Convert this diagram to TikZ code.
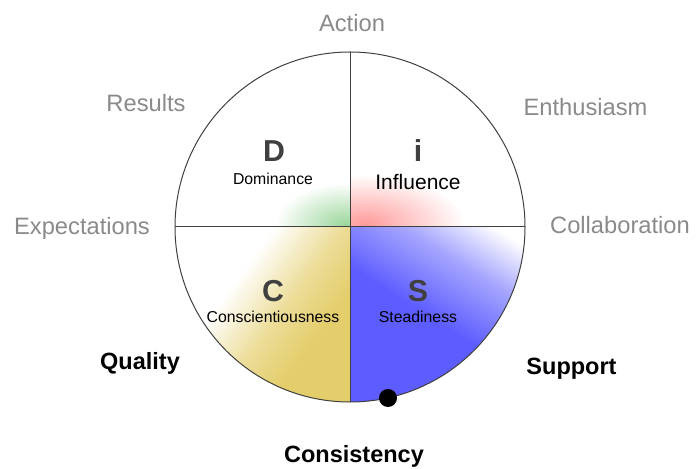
\documentclass[tikz,border=0pt]{standalone}
\usepackage{fontspec}
\setmainfont{Liberation Sans}
\usetikzlibrary{calc}
\definecolor{cyellow}{RGB}{228,206,108}
\definecolor{sblue}{RGB}{92,92,255}
\definecolor{dgreen}{RGB}{155,214,155}
\definecolor{ired}{RGB}{255,155,155}
\definecolor{lblgray}{RGB}{138,138,138}
\definecolor{ltrgray}{RGB}{64,64,64}
\pgfdeclarehorizontalshading{c_fade}{100bp}{color(0bp)=(cyellow); color(34bp)=(cyellow); color(46bp)=(cyellow!70!white); color(62bp)=(white); color(100bp)=(white)}
\pgfdeclarehorizontalshading{s_fade}{100bp}{color(0bp)=(sblue); color(48bp)=(sblue); color(66bp)=(sblue!55!white); color(80bp)=(white); color(100bp)=(white)}
\tikzset{
  lbl_g/.style = {font=\fontsize{23.7}{28}\selectfont, text=lblgray, inner sep=0pt, anchor=base},
  lbl_b/.style = {font=\fontsize{23.5}{28}\selectfont\bfseries, inner sep=0pt, anchor=base},
  ltr_n/.style = {font=\fontsize{30.3}{34}\selectfont\bfseries, text=ltrgray, inner sep=0pt, anchor=base},
  trait_n/.style = {font=\fontsize{15.8}{19}\selectfont, inner sep=0pt, anchor=base},
  trait_l/.style = {trait_n, font=\fontsize{21}{25}\selectfont},
  disc_line/.style = {draw=black!75, line width=1pt}
}

\begin{document}
\begin{tikzpicture}[x=1pt, y=1pt]
	\useasboundingbox (0,0) rectangle (700,468);
	\coordinate (O) at (350,241);
	\coordinate (top) at (350,416);
	\coordinate (bot) at (350,66);
	\coordinate (lft) at (175,241);
	\coordinate (rgt) at (525,241);
	\shade[shading=c_fade, shading angle=144] (O) -- (lft) arc[start angle=180, end angle=270, radius=175] -- cycle;
	\shade[shading=s_fade, shading angle=58] (O) -- (bot) arc[start angle=270, end angle=360, radius=175] -- cycle;
	\begin{scope}
		\clip (O) -- (lft) arc[start angle=180, end angle=90, radius=175] -- cycle;
		\shade[inner color=dgreen, outer color=white] (345,243) ellipse[x radius=70, y radius=42];
	\end{scope}
	\begin{scope}
		\clip (O) -- (rgt) arc[start angle=0, end angle=90, radius=175] -- cycle;
		\shade[inner color=ired, outer color=white] (365,244) ellipse[x radius=100, y radius=50];
	\end{scope}
	\draw[disc_line] (O) circle[radius=175];
	\draw[disc_line] (top) -- (bot);
	\draw[disc_line] (lft) -- (rgt);
	\fill (388,70) circle[radius=9];

	\node[ltr_n] (d_ltr) at (274,306.3) {D};
	\node[trait_n] (d_trait) at (273,283.7) {Dominance};
	\node[ltr_n] (i_ltr) at (418,306.3) {i};
	\node[trait_l] (i_trait) at (418,278.7) {Influence};
	\node[ltr_n] (c_ltr) at (273,166.3) {C};
	\node[trait_n] (c_trait) at (273,145.3) {Conscientiousness};
	\node[ltr_n] (s_ltr) at (418,166.3) {S};
	\node[trait_n] (s_trait) at (418,145.3) {Steadiness};

	\node[lbl_g] (action) at (352,436) {Action};
	\node[lbl_g] (results) at (146,356) {Results};
	\node[lbl_g] (enthus) at (585.5,352) {Enthusiasm};
	\node[lbl_g] (expect) at (82,233) {Expectations};
	\node[lbl_g] (collab) at (620,234) {Collaboration};
	\node[lbl_b] (quality) at (140,98) {Quality};
	\node[lbl_b] (support) at (571.5,93) {Support};
	\node[lbl_b] (consist) at (354,6) {Consistency};
\end{tikzpicture}
\end{document}
